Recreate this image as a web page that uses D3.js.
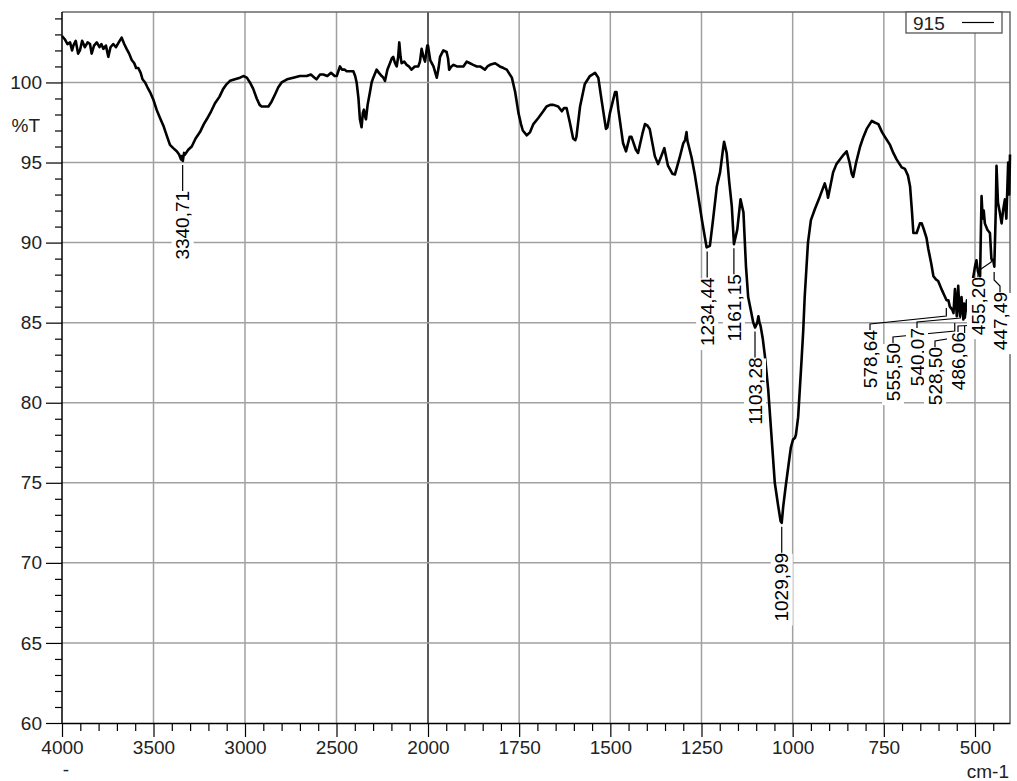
<!DOCTYPE html>
<html>
<head>
<meta charset="utf-8">
<script src="https://cdn.jsdelivr.net/npm/d3@7"></script>
<style>
  html, body { margin: 0; padding: 0; background: #fff; }
  svg { display: block; font-family: "Liberation Sans", Arial, Helvetica, sans-serif; }
</style>
</head>
<body>
<div id="chart"></div>
<script>
(function () {
  'use strict';

  // Spectrum "915": wavenumber (cm-1) and %T
  const WAVENUMBER = [
    4000, 3985, 3970, 3956, 3945, 3938, 3925, 3912, 3902, 3890, 3875, 3860, 3847, 3838, 3825, 3810,
    3795, 3785, 3774, 3760, 3747, 3735, 3720, 3705, 3690, 3674, 3660, 3647, 3633, 3619, 3605, 3595,
    3583, 3570, 3560, 3546, 3533, 3519, 3500, 3483, 3465, 3446, 3428, 3410, 3392, 3373, 3360, 3350,
    3346, 3340, 3333, 3328, 3310, 3291, 3270, 3246, 3225, 3209, 3185, 3164, 3140, 3119, 3100, 3082,
    3055, 3027, 3009, 2990, 2973, 2955, 2936, 2920, 2909, 2885, 2872, 2855, 2836, 2818, 2800, 2770,
    2736, 2700, 2663, 2640, 2620, 2609, 2590, 2572, 2550, 2530, 2510, 2499, 2490, 2481, 2470, 2455,
    2444, 2425, 2408, 2398, 2390, 2380, 2372, 2363, 2356, 2350, 2344, 2339, 2330, 2317, 2308, 2299,
    2281, 2268, 2253, 2244, 2235, 2222, 2208, 2198, 2190, 2180, 2171, 2163, 2157, 2150, 2144, 2130,
    2117, 2104, 2090, 2072, 2053, 2044, 2035, 2025, 2016, 2008, 2004, 2000, 1994, 1985, 1976, 1971,
    1967, 1958, 1949, 1945, 1942, 1936, 1930, 1921, 1912, 1903, 1894, 1885, 1876, 1866, 1857, 1844,
    1837, 1830, 1816, 1803, 1793, 1784, 1770, 1761, 1752, 1745, 1740, 1729, 1720, 1711, 1697, 1684,
    1675, 1665, 1656, 1643, 1633, 1627, 1620, 1611, 1602, 1596, 1593, 1583, 1570, 1556, 1542, 1533,
    1524, 1512, 1508, 1501, 1487, 1483, 1478, 1465, 1457, 1447, 1442, 1430, 1424, 1412, 1405, 1398,
    1392, 1378, 1369, 1362, 1352, 1342, 1330, 1323, 1310, 1300, 1295, 1291, 1289, 1277, 1268, 1259,
    1248, 1236, 1227, 1218, 1208, 1199, 1190, 1188, 1181, 1174, 1167, 1161, 1152, 1143, 1135, 1128,
    1122, 1115, 1108, 1103, 1097, 1094, 1091, 1088, 1082, 1076, 1067, 1058, 1049, 1040, 1033, 1030,
    1026, 1019, 1012, 1005, 999, 994, 991, 985, 976, 971, 967, 962, 958, 950, 939, 925,
    912, 906, 903, 896, 889, 880, 870, 860, 852, 844, 838, 834, 826, 815, 806, 797,
    783, 775, 765, 755, 747, 733, 724, 715, 701, 692, 684, 678, 673, 669, 660, 651,
    646, 640, 633, 628, 620, 614, 607, 601, 590, 582, 578, 573, 569, 562, 559, 555,
    552, 550, 546, 543, 541, 537, 532, 530, 528, 522, 516, 510, 505, 500, 496, 492,
    486, 484, 482, 479, 476, 473, 466, 459, 455, 450, 447, 443, 441, 437, 432, 427,
    423, 418, 414, 409, 406, 404
  ];
  const TRANSMITTANCE = [
    102.9, 102.7, 102.4, 102.5, 102.0, 102.3, 102.6, 101.8, 102.0, 102.6, 102.2, 102.5, 102.4, 101.8, 102.3, 102.5,
    102.2, 102.4, 102.1, 102.3, 101.6, 102.2, 102.4, 102.2, 102.5, 102.8, 102.4, 102.1, 101.8, 101.4, 101.2, 100.9,
    100.9, 100.6, 100.2, 100.0, 99.7, 99.4, 98.9, 98.3, 97.8, 97.3, 96.7, 96.1, 95.9, 95.7, 95.5, 95.2,
    95.4, 95.1, 95.6, 95.5, 95.8, 96.0, 96.5, 96.9, 97.4, 97.7, 98.2, 98.7, 99.1, 99.6, 99.9, 100.1,
    100.2, 100.3, 100.4, 100.3, 100.0, 99.6, 99.0, 98.6, 98.5, 98.5, 98.5, 98.8, 99.25, 99.7, 100.0, 100.2,
    100.3, 100.4, 100.4, 100.5, 100.3, 100.2, 100.5, 100.5, 100.4, 100.6, 100.4, 100.4, 100.7, 101.0, 100.8, 100.8,
    100.7, 100.7, 100.7, 100.4, 100.0, 99.0, 97.7, 97.2, 98.1, 98.3, 97.9, 97.7, 98.6, 99.4, 100.0, 100.3,
    100.8, 100.6, 100.4, 100.3, 100.1, 100.8, 101.2, 101.5, 101.6, 101.2, 101.0, 101.6, 102.5, 101.6, 101.2, 101.3,
    101.1, 101.0, 100.8, 101.0, 101.0, 101.3, 102.1, 101.6, 101.3, 102.0, 102.3, 102.3, 101.4, 101.0, 100.3, 100.9,
    101.6, 102.0, 101.9, 101.5, 100.8, 101.0, 101.1, 101.0, 101.0, 101.0, 101.3, 101.2, 101.1, 101.0, 101.0, 100.8,
    101.0, 101.1, 101.2, 101.0, 100.9, 100.8, 100.3, 99.4, 98.1, 97.4, 97.0, 96.7, 96.9, 97.4, 97.8, 98.2,
    98.5, 98.6, 98.6, 98.5, 98.2, 98.4, 98.4, 97.5, 96.5, 96.4, 96.6, 98.5, 99.9, 100.4, 100.6, 100.3,
    98.9, 97.1, 97.2, 98.1, 99.4, 99.4, 98.3, 96.2, 95.7, 96.6, 96.6, 95.8, 95.6, 96.8, 97.4, 97.3,
    97.1, 95.4, 94.9, 95.3, 95.9, 94.8, 94.3, 94.25, 95.3, 96.2, 96.4, 96.9, 96.4, 95.3, 94.2, 92.9,
    91.3, 89.7, 89.8, 91.5, 93.5, 94.4, 96.0, 96.3, 95.6, 93.8, 92.3, 89.9, 90.8, 92.7, 91.9, 88.5,
    86.6, 85.8, 85.0, 84.7, 85.0, 85.4, 85.0, 84.8, 84.0, 82.9, 80.8, 77.9, 75.0, 73.6, 72.6, 72.5,
    73.5, 74.8, 76.0, 77.2, 77.7, 77.8, 78.0, 79.1, 82.5, 84.5, 86.6, 88.5, 90.0, 91.4, 92.1, 92.9,
    93.7, 93.2, 92.8, 93.6, 94.4, 94.9, 95.2, 95.5, 95.7, 95.0, 94.3, 94.1, 95.0, 96.0, 96.6, 97.1,
    97.6, 97.5, 97.4, 96.9, 96.6, 96.1, 95.6, 95.2, 94.7, 94.6, 94.2, 93.5, 92.0, 90.6, 90.6, 91.2,
    91.2, 90.8, 90.3, 89.6, 88.7, 87.9, 87.7, 87.6, 87.0, 86.6, 86.4, 86.4, 86.0, 85.8, 85.6, 87.1,
    86.2, 85.4, 87.3, 85.9, 85.4, 86.6, 85.2, 86.2, 85.3, 86.4, 86.0, 86.8, 87.8, 88.5, 88.9, 88.2,
    87.9, 90.5, 92.9, 91.5, 92.0, 91.2, 90.8, 90.6, 89.0, 88.9, 88.5, 92.0, 94.8, 92.5, 91.9, 91.2,
    92.0, 92.7, 91.5, 95.0, 93.0, 95.5
  ];

  const SERIES_NAME = '915';
  const X_TICKS = [4000, 3500, 3000, 2500, 2000, 1750, 1500, 1250, 1000, 750, 500];
  const Y_TICKS = [60, 65, 70, 75, 80, 85, 90, 95, 100];
  const PEAKS = [3340.71, 1234.44, 1161.15, 1103.28, 1029.99, 578.64, 555.50, 540.07, 528.50, 486.06, 455.20, 447.49];
  const PEAK_TEXT = ['3340,71', '1234,44', '1161,15', '1103,28', '1029,99', '578,64', '555,50', '540,07', '528,50', '486,06', '455,20', '447,49'];

  const W = 1017, H = 781;
  const plot = { left: 62, right: 1010, top: 12, bottom: 723 };
  const FONT = 19;
  const GRID = '#a0a0a0';

  const svg = d3.select('#chart').append('svg')
    .attr('width', W).attr('height', H)
    .attr('viewBox', `0 0 ${W} ${H}`);

  // split abscissa: 4000-2000 compressed, 2000-404 expanded
  const x = d3.scaleLinear().domain([4000, 2000, 404]).range([plot.left, 428, plot.right]);
  const y = d3.scaleLinear().domain([60, 104.4]).range([plot.bottom, plot.top]);

  // grid
  const grid = svg.append('g');
  X_TICKS.filter(v => v !== 4000).forEach(v => {
    grid.append('line')
      .attr('x1', x(v)).attr('x2', x(v))
      .attr('y1', plot.top).attr('y2', plot.bottom)
      .attr('stroke', v === 2000 ? '#000' : GRID)
      .attr('stroke-width', v === 2000 ? 1.3 : 1.5);
  });
  Y_TICKS.filter(v => v !== 60).forEach(v => {
    grid.append('line')
      .attr('x1', plot.left).attr('x2', plot.right)
      .attr('y1', y(v)).attr('y2', y(v))
      .attr('stroke', GRID).attr('stroke-width', 1.5);
  });

  // frame top/right
  svg.append('path')
    .attr('d', `M${plot.left},${plot.top}H${plot.right}V${plot.bottom}`)
    .attr('fill', 'none').attr('stroke', '#6a6a6a').attr('stroke-width', 1.5);

  // spectrum
  const pts = WAVENUMBER.map((w, i) => [w, TRANSMITTANCE[i]]);
  const line = d3.line().x(d => x(d[0])).y(d => y(d[1]));
  svg.append('path')
    .datum(pts)
    .attr('d', line)
    .attr('fill', 'none')
    .attr('stroke', '#000')
    .attr('stroke-width', 2.6)
    .attr('stroke-linejoin', 'round');

  // peak annotations
  const nearestT = (w) => {
    let best = 0;
    WAVENUMBER.forEach((v, i) => { if (Math.abs(v - w) < Math.abs(WAVENUMBER[best] - w)) best = i; });
    return TRANSMITTANCE[best];
  };

  // label slots for the crowded group below 600 cm-1 (pixels)
  const CROWDED = {
    '578,64': { lx: 870, top: 330, knee: 316, rise: 8 },
    '555,50': { lx: 893, top: 343, knee: 331, rise: 8 },
    '540,07': { lx: 917, top: 328, knee: 318, rise: 7 },
    '528,50': { lx: 935, top: 347, knee: 336, rise: 10 },
    '486,06': { lx: 958, top: 332, knee: 325, rise: 8 },
    '455,20': { lx: 978, top: 277, knee: 262, rise: 3 },
    '447,49': { lx: 1000, top: 292, knee: 280, rise: 8 }
  };

  const ann = svg.append('g');
  const leaders = ann.append('g');
  const labels = ann.append('g');

  PEAKS.forEach((p, i) => {
    const txt = PEAK_TEXT[i];
    const px = x(p);
    const py = y(nearestT(p));
    let lx, top, path;
    const slot = CROWDED[txt];
    if (slot) {
      lx = slot.lx; top = slot.top;
      path = [[lx, top], [lx, top - 6], [px, slot.knee], [px, slot.knee - slot.rise]];
    } else {
      lx = px; top = py + 30;
      path = [[lx, py + 4], [lx, top]];
    }
    leaders.append('path')
      .attr('d', d3.line()(path))
      .attr('fill', 'none').attr('stroke', '#000').attr('stroke-width', 1.2);

    const g = labels.append('g');
    const bg = g.append('rect').attr('fill', '#fff');
    const t = g.append('text')
      .attr('transform', `translate(${lx},${top}) rotate(-90)`)
      .attr('text-anchor', 'end')
      .attr('dy', '0.35em')
      .attr('font-size', FONT)
      .attr('fill', '#000')
      .text(txt);
    const len = t.node().getComputedTextLength();
    bg.attr('x', lx - 11).attr('y', top + 1).attr('width', 22).attr('height', len + 3);
  });

  // y axis
  const yAxisMajor = d3.axisLeft(y).tickValues(Y_TICKS).tickSize(16).tickPadding(4).tickSizeOuter(0);
  const yAxisMinor = d3.axisLeft(y).tickValues(d3.range(61, 105).filter(v => v % 5 !== 0))
    .tickSize(7).tickFormat('').tickSizeOuter(0);
  const ya = svg.append('g').attr('transform', `translate(${plot.left},0)`);
  ya.call(yAxisMajor);
  ya.append('g').call(yAxisMinor).select('.domain').remove();
  ya.select('.domain').attr('d', `M0,${plot.top}V${plot.bottom}`);

  // x axis
  const minorX = d3.range(3900, 2000, -100).concat(d3.range(1950, 404, -50))
    .filter(v => X_TICKS.indexOf(v) < 0);
  const xAxisMajor = d3.axisBottom(x).tickValues(X_TICKS).tickSize(14).tickPadding(4).tickSizeOuter(0).tickFormat(d3.format('d'));
  const xAxisMinor = d3.axisBottom(x).tickValues(minorX).tickSize(8).tickFormat('').tickSizeOuter(0);
  const xa = svg.append('g').attr('transform', `translate(0,${plot.bottom})`);
  xa.call(xAxisMajor);
  xa.append('g').call(xAxisMinor).select('.domain').remove();

  svg.selectAll('.tick text').attr('font-size', FONT).attr('fill', '#222')
    .attr('font-family', '"Liberation Sans", Arial, Helvetica, sans-serif');
  svg.selectAll('.tick line').attr('stroke', '#000').attr('stroke-width', 1.2);
  svg.selectAll('.domain').attr('stroke', '#000').attr('stroke-width', 1.5);

  // axis titles
  svg.append('text').attr('x', 40).attr('y', 132).attr('text-anchor', 'end')
    .attr('font-size', FONT).attr('fill', '#222').text('%T');
  svg.append('text').attr('x', 1009).attr('y', 778).attr('text-anchor', 'end')
    .attr('font-size', FONT).attr('fill', '#222').text('cm-1');
  svg.append('text').attr('x', 66).attr('y', 776).attr('text-anchor', 'middle')
    .attr('font-size', FONT).attr('fill', '#222').text('-');

  // legend
  const lg = svg.append('g');
  lg.append('rect').attr('x', 906).attr('y', plot.top).attr('width', 96).attr('height', 21)
    .attr('fill', '#fff').attr('stroke', '#555').attr('stroke-width', 1.3);
  lg.append('text').attr('x', 913).attr('y', 30).attr('font-size', FONT).attr('fill', '#222').text(SERIES_NAME);
  lg.append('line').attr('x1', 962).attr('x2', 994).attr('y1', 22.5).attr('y2', 22.5)
    .attr('stroke', '#000').attr('stroke-width', 1.2);
})();
</script>
</body>
</html>
